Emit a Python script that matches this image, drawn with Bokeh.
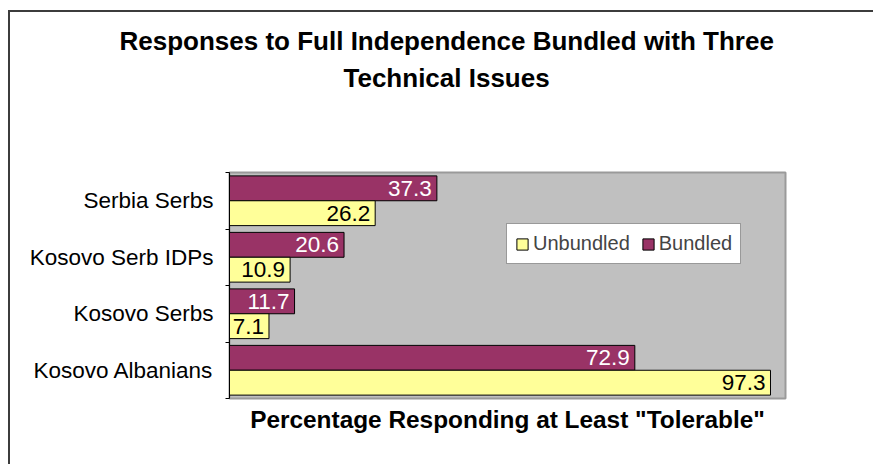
from bokeh.plotting import figure
from bokeh.models import ColumnDataSource, FixedTicker, Title, Legend, LegendItem
from bokeh.transform import dodge
from bokeh.embed import file_html
from bokeh.resources import INLINE
from bokeh.core.properties import value

categories = ["Kosovo Albanians", "Kosovo Serbs", "Kosovo Serb IDPs", "Serbia Serbs"]
unbundled = [97.3, 7.1, 10.9, 26.2]
bundled = [72.9, 11.7, 20.6, 37.3]
series_names = ["Unbundled", "Bundled"]
title_lines = ["Responses to Full Independence Bundled with Three", "Technical Issues"]
x_title = 'Percentage Responding at Least "Tolerable"'

FONT = "Liberation Sans"
pos = [i + 0.5 for i in range(len(categories))]
src = ColumnDataSource(dict(
    pos=pos, cat=categories, unb=unbundled, bun=bundled,
    unb_lbl=[f"{v:.1f}" for v in unbundled],
    bun_lbl=[f"{v:.1f}" for v in bundled],
))

W, H = 865, 454
p = figure(width=W, height=H, x_range=(0, 100), y_range=(0, len(categories)),
           output_backend="svg", toolbar_location=None,
           min_border_left=219, min_border_right=90, min_border_top=160, min_border_bottom=68,
           background_fill_color="#C0C0C0", border_fill_color="white",
           outline_line_color="#9a9a9a", outline_line_width=2)
p.styles = {"border-left": "2px solid #3c3c3c", "border-top": "2px solid #3c3c3c",
            "margin-top": "10px", "margin-left": "8px"}
p.grid.visible = False

r_b = p.hbar(y=dodge("pos", 0.22, range=p.y_range), left=0, right="bun", height=0.44,
             fill_color="#993366", line_color="black", line_width=1, source=src)
r_u = p.hbar(y=dodge("pos", -0.22, range=p.y_range), left=0, right="unb", height=0.44,
             fill_color="#FFFF99", line_color="black", line_width=1, source=src)

p.text(x="bun", y=dodge("pos", 0.22, range=p.y_range), text="bun_lbl", x_offset=-5,
       text_align="right", text_baseline="middle", text_color="white",
       text_font=value(FONT), text_font_size="22.5px", source=src)
p.text(x="unb", y=dodge("pos", -0.22, range=p.y_range), text="unb_lbl", x_offset=-5,
       text_align="right", text_baseline="middle", text_color="black",
       text_font=value(FONT), text_font_size="22.5px", source=src)

yax = p.yaxis[0]
yax.ticker = FixedTicker(ticks=pos, minor_ticks=list(range(len(categories) + 1)))
yax.major_label_overrides = {pp: c for pp, c in zip(pos, categories)}
yax.major_tick_in = 0
yax.major_tick_out = 0
yax.minor_tick_in = 0
yax.minor_tick_out = 4
yax.minor_tick_line_color = "black"
yax.axis_line_color = "black"
yax.major_label_standoff = 12
yax.major_label_text_font = FONT
yax.major_label_text_font_size = "22.5px"
yax.major_label_text_color = "black"

xax = p.xaxis[0]
xax.ticker = FixedTicker(ticks=[])
xax.axis_line_color = None
xax.major_tick_line_color = None
xax.minor_tick_line_color = None
xax.axis_label = x_title
xax.axis_label_text_font = FONT
xax.axis_label_text_font_style = "bold"
xax.axis_label_text_font_size = "24.4px"
xax.axis_label_text_color = "black"
xax.axis_label_standoff = 7

legend = Legend(items=[LegendItem(label=series_names[0], renderers=[r_u]),
                       LegendItem(label=series_names[1], renderers=[r_b])],
                orientation="horizontal", location=(277, 134), margin=0,
                border_line_color="#333333", border_line_width=1,
                background_fill_color="white", background_fill_alpha=1,
                label_text_font=FONT, label_text_font_size="20px",
                glyph_width=14, glyph_height=14, padding=8, spacing=11,
                label_standoff=4)
p.add_layout(legend)

# two-line chart title; a blank (white) spacer panel keeps the gap above the frame
spacer = Title(text=" ", standoff=46, text_font=FONT, text_font_style="bold",
               text_font_size="26px", text_color="white")
t2 = Title(text=title_lines[1], align="left", offset=114, standoff=4,
           text_font=FONT, text_font_style="bold", text_font_size="26px", text_color="black")
t1 = Title(text=title_lines[0], align="left", offset=-110, standoff=6,
           text_font=FONT, text_font_style="bold", text_font_size="26px", text_color="black")
p.add_layout(spacer, "above")
p.add_layout(t2, "above")
p.add_layout(t1, "above")

open("out.html", "w").write(file_html(p, INLINE))
